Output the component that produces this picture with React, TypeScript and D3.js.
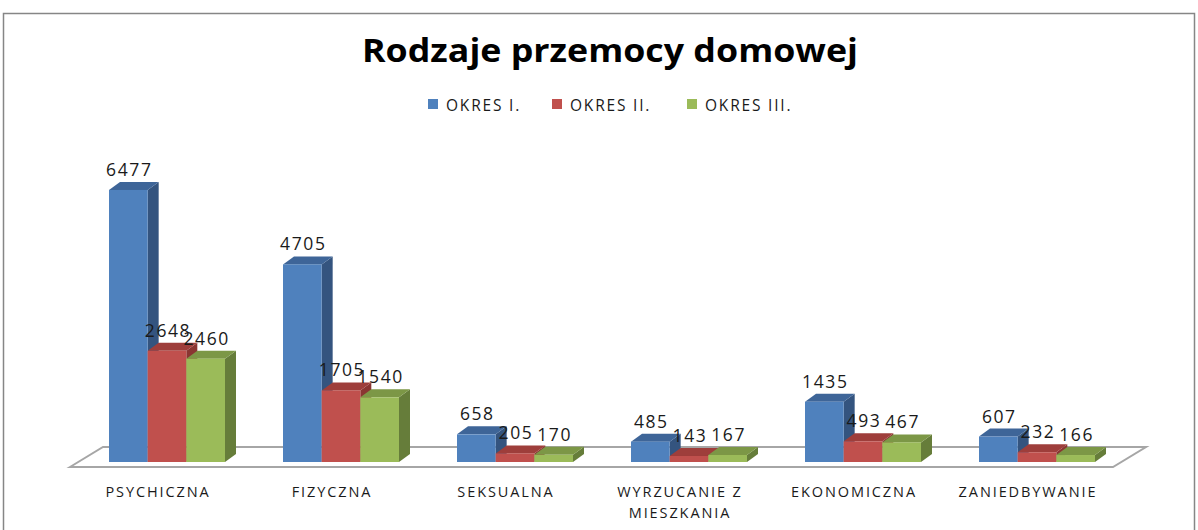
import React from "react";
import * as d3 from "d3";

const categories: string[][] = [
  ["PSYCHICZNA"],
  ["FIZYCZNA"],
  ["SEKSUALNA"],
  ["WYRZUCANIE Z", "MIESZKANIA"],
  ["EKONOMICZNA"],
  ["ZANIEDBYWANIE"],
];
const seriesNames = ["OKRES I.", "OKRES II.", "OKRES III."];
const okres1 = [6477, 4705, 658, 485, 1435, 607];
const okres2 = [2648, 1705, 205, 143, 493, 232];
const okres3 = [2460, 1540, 170, 167, 467, 166];
const seriesValues = [okres1, okres2, okres3];
const title = "Rodzaje przemocy domowej";

const colors = [
  { front: "#4F81BD", top: "#3E6598", side: "#34547F" },
  { front: "#C0504D", top: "#9E3E3B", side: "#8A3532" },
  { front: "#9BBB59", top: "#7C9746", side: "#667D3A" },
];

const W = 1198;
const H = 530;
const DX = 11; // bar depth x
const DY = -8; // bar depth y
const FLOOR_DX = 33;
const FLOOR_DY = -20;
const FONT = "'Open Sans', 'Noto Sans', sans-serif";

export default function App() {
  const catKeys = categories.map((c) => c.join(" "));
  const x = d3
    .scaleBand<string>()
    .domain(catKeys)
    .range([80, 1124])
    .paddingInner(1 / 3)
    .paddingOuter(1 / 6);
  const xs = d3
    .scaleBand<string>()
    .domain(seriesNames)
    .range([0, x.bandwidth()])
    .padding(0);
  const y = d3.scaleLinear().domain([0, 7000]).range([462, 168]);

  const base = y(0);
  const floorFrontY = base + 5;
  const fl = x.range()[0] - 10;
  const fr = x.range()[1] - 11;
  const floorPts = [
    [fl, floorFrontY],
    [fl + FLOOR_DX, floorFrontY + FLOOR_DY],
    [fr + FLOOR_DX, floorFrontY + FLOOR_DY],
    [fr, floorFrontY],
  ];

  const bars: React.ReactNode[] = [];
  const labels: React.ReactNode[] = [];
  catKeys.forEach((ck, ci) => {
    seriesNames.forEach((sn, si) => {
      const v = seriesValues[si][ci];
      const x0 = (x(ck) ?? 0) + (xs(sn) ?? 0);
      const w = xs.bandwidth();
      const yt = y(v);
      const c = colors[si];
      const pts = (arr: number[][]) => arr.map((p) => p.join(",")).join(" ");
      bars.push(
        <g key={`b-${ci}-${si}`}>
          <polygon
            points={pts([
              [x0 + w, yt],
              [x0 + w + DX, yt + DY],
              [x0 + w + DX, base + DY],
              [x0 + w, base],
            ])}
            fill={c.side}
          />
          <polygon
            points={pts([
              [x0, yt],
              [x0 + DX, yt + DY],
              [x0 + w + DX, yt + DY],
              [x0 + w, yt],
            ])}
            fill={c.top}
          />
          <rect x={x0} y={yt} width={w} height={base - yt} fill={c.front} />
        </g>
      );
      labels.push(
        <text
          key={`l-${ci}-${si}`}
          x={x0 + w / 2 + 1}
          y={yt - 14}
          textAnchor="middle"
          fontFamily={FONT}
          fontSize={17.5}
          letterSpacing={1.6}
          fill="#1a1a1a"
        >
          {v}
        </text>
      );
    });
  });

  const legendX = [428, 552, 687];

  return (
    <svg
      width={W}
      height={H}
      style={{ position: "absolute", left: 0, top: 0, background: "#fff" }}
    >
      <rect x={0} y={0} width={W} height={H} fill="#fff" />
      <rect
        x={3.5}
        y={13.5}
        width={1191}
        height={540}
        fill="#fff"
        stroke="#868686"
        strokeWidth={1.5}
      />
      <text
        x={610}
        y={62}
        textAnchor="middle"
        fontFamily={FONT}
        fontWeight="bold"
        fontSize={33}
        textLength={496}
        lengthAdjust="spacingAndGlyphs"
        fill="#000"
      >
        {title}
      </text>
      {seriesNames.map((s, i) => (
        <g key={s}>
          <rect x={legendX[i]} y={99} width={10} height={10} fill={colors[i].front} />
          <text
            x={legendX[i] + 18}
            y={111}
            fontFamily={FONT}
            fontSize={15.5}
            letterSpacing={1.8}
            fill="#1a1a1a"
          >
            {s}
          </text>
        </g>
      ))}
      <polygon
        points={floorPts.map((p) => p.join(",")).join(" ")}
        fill="#fff"
        stroke="#A6A6A6"
        strokeWidth={2}
      />
      {bars}
      {labels}
      {categories.map((lines, ci) => (
        <text
          key={catKeys[ci]}
          textAnchor="middle"
          fontFamily={FONT}
          fontSize={14.5}
          letterSpacing={1.9}
          fill="#1a1a1a"
        >
          {lines.map((ln, li) => (
            <tspan
              key={li}
              x={(x(catKeys[ci]) ?? 0) + x.bandwidth() / 2 - 9}
              y={497 + li * 21}
            >
              {ln}
            </tspan>
          ))}
        </text>
      ))}
    </svg>
  );
}
